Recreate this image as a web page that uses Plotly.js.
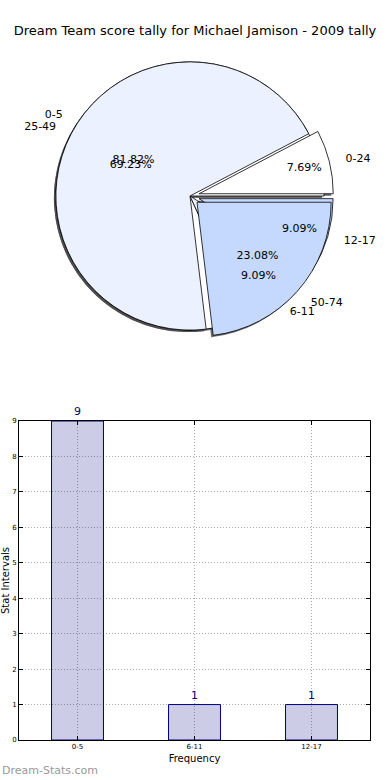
<!DOCTYPE html>
<html>
<head>
<meta charset="utf-8">
<script src="https://cdn.plot.ly/plotly-3.0.1.min.js"></script>
<style>html,body{margin:0;padding:0;background:#fff;}#chart{width:390px;height:780px;}</style>
</head>
<body>
<div id="chart"></div>
<script>
// Data
const scoreCats = ['0-5', '6-11', '12-17'];
const scoreCounts = [9, 1, 1];
const tallyCats = ['0-24', '25-49', '50-74'];
const tallyCounts = [1, 9, 3];

const pieColors = ['#FFFFFF', '#EBF1FF', '#C5D9FF'];
const scorePull = [0, 0, 0.07];
const tallyPull = [0.07, 0, 0.07];
const labelExtraPull = 0.1;
const FONT = 'DejaVu Sans, sans-serif';

const W = 390, H = 780;
const CX = 190, CY = 196, HALF = 143.5, MAXPULL = 0.07;
const R = HALF / (1 + MAXPULL);
function domainFor(half, dx, dy) {
  return {x: [(CX - half + dx) / W, (CX + half + dx) / W], y: [1 - (CY + half + dy) / H, 1 - (CY - half + dy) / H]};
}
const dom = domainFor(HALF, 0, 0);
const shDom = domainFor(HALF, -2, 2);
const labDom = domainFor(R * (1 + MAXPULL + labelExtraPull), 0, 0);

// first slice starts at 3 o'clock and slices run counterclockwise
function startRotation(values) {
  const tot = values.reduce(function (a, b) { return a + b; }, 0);
  return 90 - 360 * values[0] / tot;
}

function pieBase(labels, values, pull, domain) {
  return {
    type: 'pie', labels: labels, values: values, pull: pull, domain: domain,
    sort: false, direction: 'counterclockwise', rotation: startRotation(values),
    hoverinfo: 'skip', showlegend: false
  };
}
const clear = ['rgba(0,0,0,0)', 'rgba(0,0,0,0)', 'rgba(0,0,0,0)'];
const shade = ['rgba(70,70,70,0.8)', 'rgba(70,70,70,0.8)', 'rgba(70,70,70,0.8)'];

const traces = [];
const pies = [[scoreCats, scoreCounts, scorePull], [tallyCats, tallyCounts, tallyPull]];
// shadows
pies.forEach(function (d) {
  traces.push(Object.assign(pieBase(d[0], d[1], d[2], shDom), {
    marker: {colors: shade, line: {width: 0}}, textinfo: 'none'
  }));
});
// wedges
pies.forEach(function (d) {
  traces.push(Object.assign(pieBase(d[0], d[1], d[2], dom), {
    marker: {colors: pieColors, line: {color: '#000', width: 0.8}}, textinfo: 'none'
  }));
});
// percentage texts (on top of all wedges)
pies.forEach(function (d) {
  traces.push(Object.assign(pieBase(d[0], d[1], d[2], dom), {
    marker: {colors: clear, line: {width: 0}},
    texttemplate: '%{percent:.2%}', textposition: 'inside', insidetextorientation: 'horizontal',
    textfont: {family: FONT, size: 11, color: '#000'}
  }));
});
// outside labels, set a little further out
pies.forEach(function (d) {
  traces.push(Object.assign(pieBase(d[0], d[1], d[2].map(function (p) { return p + labelExtraPull; }), labDom), {
    marker: {colors: clear, line: {width: 0}},
    textinfo: 'label', textposition: 'outside',
    outsidetextfont: {family: FONT, size: 11, color: '#000'}
  }));
});

// bars
traces.push({
  type: 'bar', x: scoreCats, y: scoreCounts, xaxis: 'x', yaxis: 'y',
  marker: {color: 'rgba(0,0,128,0.2)', line: {color: '#000080', width: 1}},
  text: scoreCounts.map(String), textposition: 'outside', cliponaxis: false,
  textfont: {family: FONT, size: 11, color: '#000080'},
  hoverinfo: 'skip', showlegend: false
});

const layout = {
  width: W, height: H,
  margin: {l: 0, r: 0, t: 0, b: 0},
  paper_bgcolor: '#fff', plot_bgcolor: '#fff',
  font: {family: FONT, color: '#000'},
  title: {text: 'Dream Team score tally for Michael Jamison - 2009 tally', font: {family: FONT, size: 13, color: '#000'},
    x: 0.5, xanchor: 'center', y: 1 - 30 / H, yanchor: 'middle', xref: 'paper', yref: 'paper'},
  bargap: 0.556,
  xaxis: {
    domain: [19 / W, 370 / W], range: [-0.5, 2.5], type: 'category',
    showline: true, mirror: 'ticks', linecolor: '#000', linewidth: 1,
    ticks: 'inside', ticklen: 4, tickcolor: '#000',
    showgrid: true, gridcolor: '#aaaaaa', griddash: '1px,2px', gridwidth: 1,
    tickfont: {family: FONT, size: 7, color: '#000'},
    title: {text: 'Frequency', font: {family: FONT, size: 10, color: '#000'}, standoff: 4},
    fixedrange: true
  },
  yaxis: {
    domain: [1 - 740 / H, 1 - 421 / H], range: [0, 9], dtick: 1,
    showline: true, mirror: 'ticks', linecolor: '#000', linewidth: 1,
    ticks: 'inside', ticklen: 4, tickcolor: '#000', zeroline: false,
    showgrid: true, gridcolor: '#aaaaaa', griddash: '1px,2px', gridwidth: 1,
    tickfont: {family: FONT, size: 7, color: '#000'},
    title: {text: 'Stat Intervals', font: {family: FONT, size: 10, color: '#000'}, standoff: 2},
    fixedrange: true
  },
  annotations: [{
    text: 'Dream-Stats.com', xref: 'paper', yref: 'paper', x: 0, y: 1 - 770 / H,
    xanchor: 'left', yanchor: 'middle', showarrow: false,
    font: {family: FONT, size: 11, color: '#999999'}
  }]
};

Plotly.newPlot('chart', traces, layout, {staticPlot: true, displayModeBar: false});
</script>
</body>
</html>
